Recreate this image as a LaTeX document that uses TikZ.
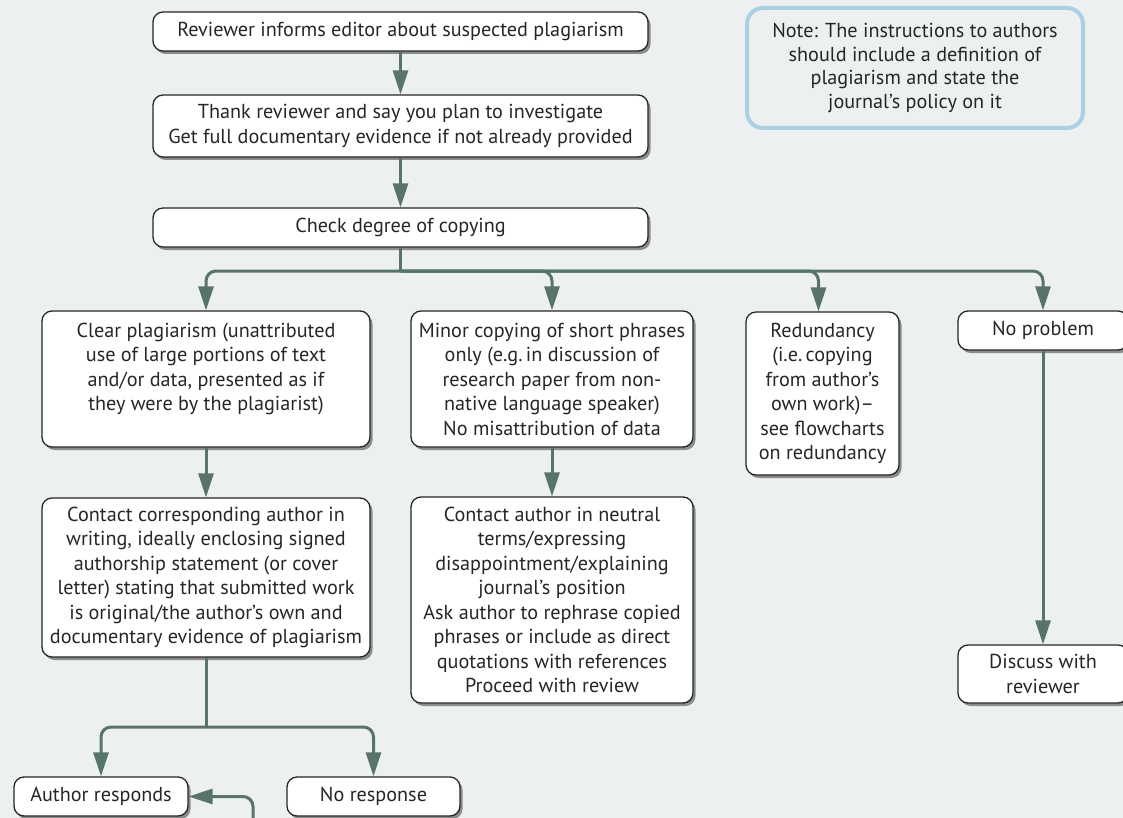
\documentclass[tikz,border=0pt]{standalone}
\usepackage{fontspec}
\setmainfont{PT Sans}
\usetikzlibrary{arrows.meta,shadows}

\definecolor{bgcol}{RGB}{237,240,241}
\definecolor{arrcol}{RGB}{88,114,108}
\definecolor{notecol}{RGB}{170,208,228}
\definecolor{txtcol}{RGB}{38,38,38}

\begin{document}
\begin{tikzpicture}[x=1pt,y=-1pt,
	box/.style={draw=black!85,line width=1.3pt,fill=white,rounded corners=10pt,
		align=center,inner sep=0pt,text=txtcol,font=\fontsize{20.2}{24.5}\selectfont,
		drop shadow={shadow xshift=2.5pt,shadow yshift=-3pt,fill=black!55,opacity=.8}},
	notebox/.style={draw=notecol,line width=4pt,rounded corners=16pt,align=center,
		text=txtcol,font=\fontsize{20.2}{23.5}\selectfont},
	stem/.style={draw=arrcol,line width=3pt},
	arr/.style={stem,rounded corners=10pt,-{Triangle[length=24pt,width=15pt]}}]

	\useasboundingbox (0,0) rectangle (1123,818);
	\clip (0,0) rectangle (1123,818);
	\fill[bgcol] (0,0) rectangle (1123,818);

	% Top column
	\node (inform) at (400.5,31.5) [box,minimum width=495,minimum height=39] {Reviewer informs editor about suspected plagiarism};
	\node (thank) at (400.5,126) [box,minimum width=495,minimum height=62] {Thank reviewer and say you plan to investigate\\Get full documentary evidence if not already provided};
	\node (check) at (400.5,227.5) [box,minimum width=495,minimum height=39] {Check degree of copying};

	% Note
	\node (note) at (915,68) [notebox,minimum width=336,minimum height=120] {Note: The instructions to authors\\should include a definition of\\plagiarism and state the\\journal's policy on it};

	% Degree of copying
	\node (clear) at (206,379) [box,minimum width=328,minimum height=136] {Clear plagiarism (unattributed\\use of large portions of text\\and/or data, presented as if\\they were by the plagiarist)\\\mbox{}};
	\node (minor) at (552,379) [box,minimum width=282,minimum height=136] {Minor copying of short phrases\\only (e.g.\,in discussion of\\research paper from non-\\native language speaker)\\No misattribution of data};
	\node (redund) at (822.5,393.5) [box,minimum width=153,minimum height=163] {Redundancy\\(i.e.\,copying\\from author's\\own work)--\\see flowcharts\\on redundancy};
	\node (noprob) at (1043,330.5) [box,minimum width=170,minimum height=39] {No problem};

	% Next steps
	\node (contactA) at (206,577.5) [box,minimum width=328,minimum height=159] {Contact corresponding author in\\writing, ideally enclosing signed\\authorship statement (or cover\\letter) stating that submitted work\\is original/the author's own and\\documentary evidence of plagiarism};
	\node (contactB) at (552,600) [box,minimum width=282,minimum height=206] {Contact author in neutral\\terms/expressing\\disappointment/explaining\\journal's position\\Ask author to rephrase copied\\phrases or include as direct\\quotations with references\\Proceed with review};
	\node (discuss) at (1043,674) [box,minimum width=170,minimum height=58] {Discuss with\\reviewer};

	% Responses
	\node (responds) at (101,796.5) [box,minimum width=174,minimum height=39] {Author responds};
	\node (noresp) at (373.5,796.5) [box,minimum width=173,minimum height=39] {No response};

	% Arrows
	\draw[arr] (inform) -- (thank);
	\draw[arr] (thank) -- (check);

	\coordinate (split) at (400.5,271);
	\draw[stem] (check) -- (split);
	\draw[arr] (split) -| (clear);
	\draw[arr] (split) -| (minor);
	\draw[arr] (split) -| ([xshift=-4pt]redund.north);
	\draw[arr] (split) -| (noprob);

	\draw[arr] (clear) -- (contactA);
	\draw[arr] (minor) -- (contactB);
	\draw[arr] (noprob) -- (discuss);

	\coordinate (splitB) at (206,727);
	\draw[stem] (contactA) -- (splitB);
	\draw[arr] (splitB) -| (responds);
	\draw[arr] (splitB) -| (noresp);

	\coordinate (back) at (253,840);
	\draw[arr] (back) |- (responds);

\end{tikzpicture}
\end{document}
